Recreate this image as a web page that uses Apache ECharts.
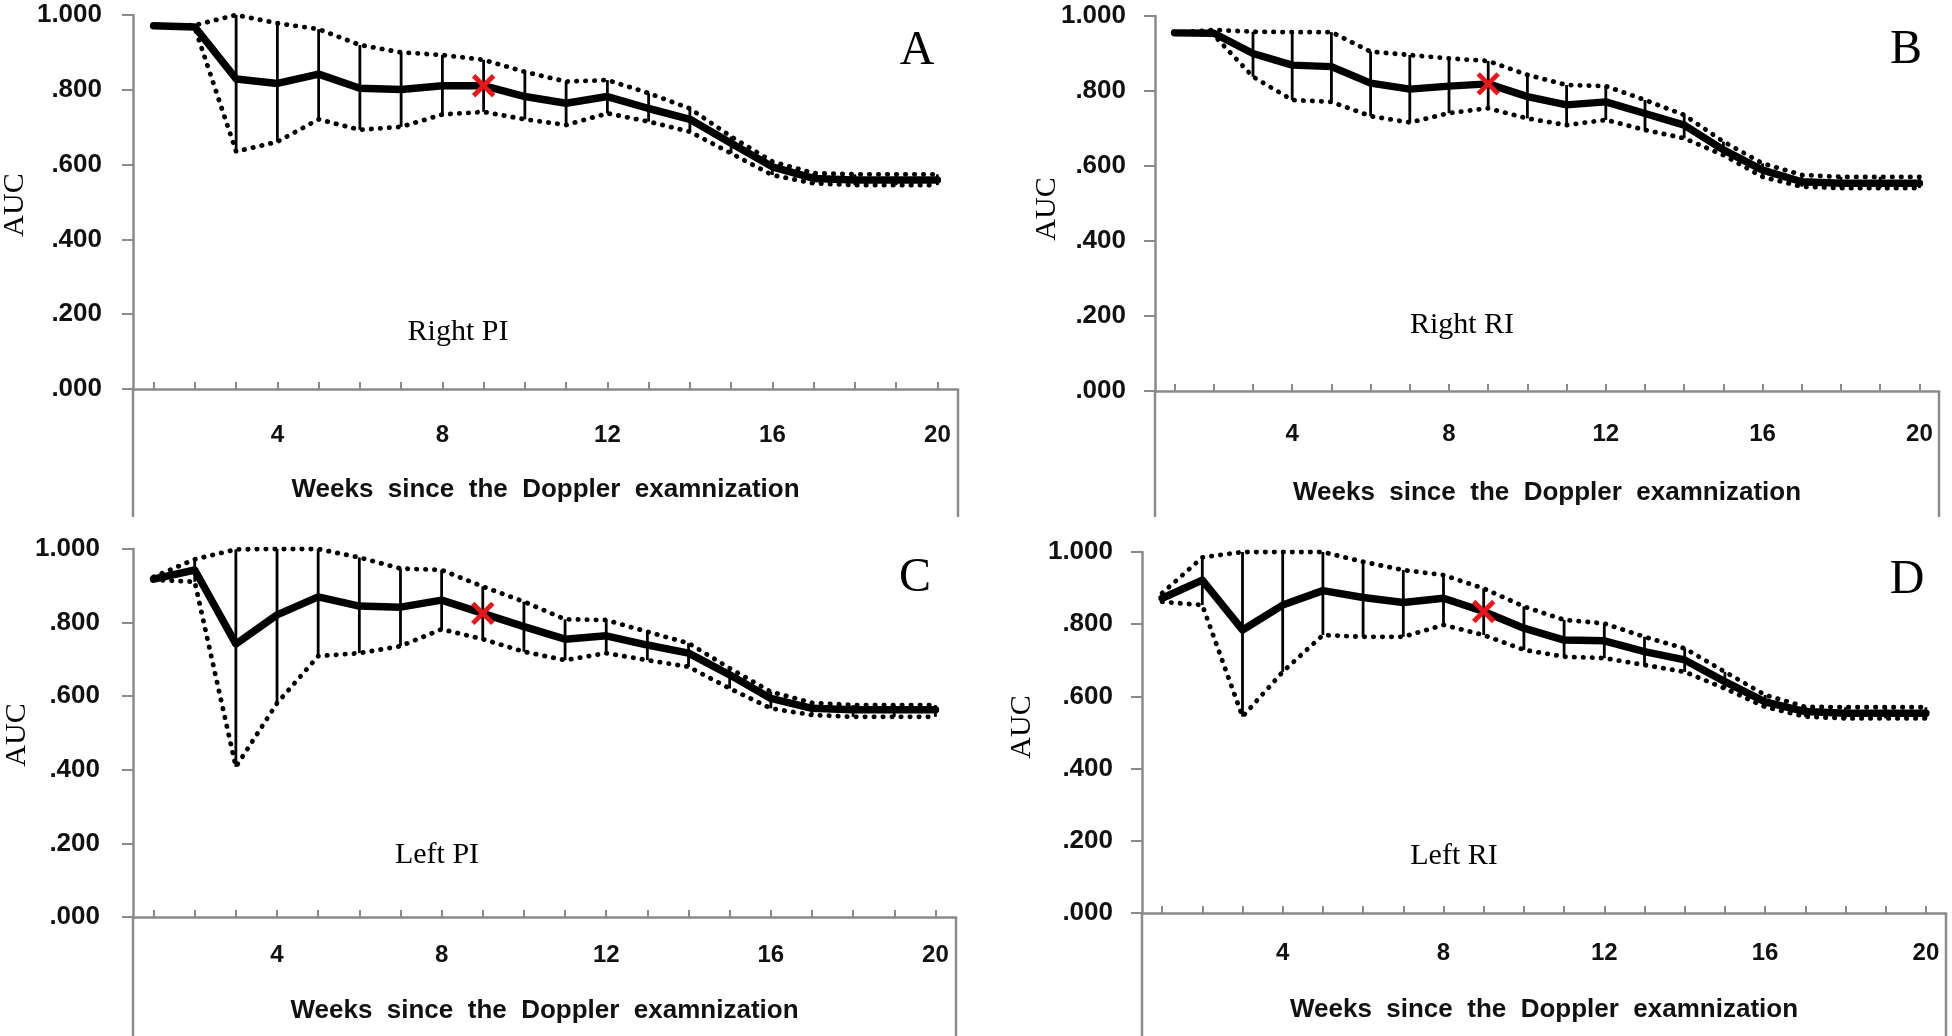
<!DOCTYPE html>
<html>
<head>
<meta charset="utf-8">
<script src="https://cdn.jsdelivr.net/npm/echarts@6/dist/echarts.min.js"></script>
<style>
html,body{margin:0;padding:0;background:#fff;}
#main{width:1952px;height:1036px;}
</style>
</head>
<body>
<div id="main"></div>
<script>
// ---------- data ----------
const weeks = ['1','2','3','4','5','6','7','8','9','10','11','12','13','14','15','16','17','18','19','20'];
const tickLabels = ['4','8','12','16','20'];
const yTickLabels = ['.000','.200','.400','.600','.800','1.000'];
const panelNames = ['Right PI','Right RI','Left PI','Left RI'];
const panelLetters = ['A','B','C','D'];
const xTitle = 'Weeks  since  the  Doppler  examnization';
const yTitle = 'AUC';
const markWeek = '9';

// Right PI (A)
const rightPI_auc   = [0.971,0.968,0.829,0.817,0.842,0.804,0.801,0.811,0.811,0.782,0.764,0.782,0.750,0.721,0.657,0.594,0.563,0.559,0.559,0.559];
const rightPI_upper = [0.971,0.973,1.000,0.978,0.962,0.920,0.900,0.893,0.880,0.848,0.822,0.826,0.791,0.750,0.675,0.608,0.577,0.574,0.574,0.574];
const rightPI_lower = [0.971,0.966,0.635,0.661,0.721,0.693,0.701,0.734,0.741,0.721,0.706,0.737,0.715,0.688,0.630,0.572,0.550,0.545,0.545,0.545];
// Right RI (B)
const rightRI_auc   = [0.955,0.954,0.900,0.869,0.865,0.821,0.805,0.813,0.819,0.785,0.763,0.771,0.740,0.709,0.643,0.589,0.558,0.554,0.554,0.554];
const rightRI_upper = [0.955,0.963,0.958,0.957,0.957,0.905,0.896,0.887,0.880,0.843,0.816,0.813,0.776,0.736,0.665,0.607,0.576,0.571,0.571,0.571];
const rightRI_lower = [0.955,0.949,0.838,0.776,0.771,0.733,0.716,0.741,0.754,0.727,0.709,0.723,0.696,0.674,0.629,0.571,0.545,0.541,0.541,0.541];
// Left PI (C)
const leftPI_auc    = [0.918,0.943,0.742,0.821,0.870,0.845,0.842,0.861,0.825,0.789,0.755,0.764,0.739,0.717,0.658,0.594,0.567,0.563,0.563,0.563];
const leftPI_upper  = [0.924,0.972,0.999,1.000,1.000,0.977,0.947,0.943,0.898,0.857,0.809,0.807,0.775,0.744,0.676,0.612,0.582,0.576,0.576,0.576];
const leftPI_lower  = [0.916,0.911,0.408,0.581,0.709,0.717,0.736,0.782,0.755,0.721,0.698,0.717,0.698,0.680,0.621,0.567,0.549,0.544,0.544,0.544];
// Left RI (D)
const leftRI_auc    = [0.872,0.922,0.784,0.853,0.893,0.874,0.860,0.872,0.835,0.789,0.756,0.754,0.724,0.701,0.641,0.585,0.558,0.553,0.553,0.553];
const leftRI_upper  = [0.886,0.985,1.000,1.000,1.000,0.973,0.950,0.936,0.899,0.849,0.812,0.802,0.765,0.733,0.668,0.604,0.571,0.570,0.570,0.570];
const leftRI_lower  = [0.862,0.853,0.544,0.668,0.770,0.765,0.765,0.798,0.770,0.729,0.710,0.706,0.687,0.668,0.622,0.571,0.544,0.539,0.539,0.539];

const panelAuc   = [rightPI_auc, rightRI_auc, leftPI_auc, leftRI_auc];
const panelUpper = [rightPI_upper, rightRI_upper, leftPI_upper, leftRI_upper];
const panelLower = [rightPI_lower, rightRI_lower, leftPI_lower, leftRI_lower];

// ---------- layout ----------
const grids = [
  {left:133,  top:15,  width:825, height:374},
  {left:1155, top:16,  width:784, height:375},
  {left:133,  top:549, width:823, height:368},
  {left:1142, top:552, width:804, height:361}
];
const frameBottom = [517, 517, 1036, 1036];
const labelMargin = [34, 31, 26, 28];
const nameGapX = [88, 89, 81, 84];
const yLabelMargin = [31, 29, 33, 29];
const letterPos = [[917,51],[1906,50],[915,578],[1907,580]];
const subPos = [[458,332],[1462,325],[437,855],[1454,856]];
const aucPos = [[15,205],[1047,209],[17,735],[1022,727]];

const AXIS_GRAY = '#8a8a8a';
const chart = echarts.init(document.getElementById('main'), null, {renderer:'canvas'});

const xAxes = [], yAxes = [], series = [], graphics = [];
grids.forEach((g, i) => {
  xAxes.push({
    type:'category', gridIndex:i, data:weeks, boundaryGap:true,
    name: xTitle, nameLocation:'middle', nameGap:nameGapX[i],
    nameTextStyle:{fontFamily:'Liberation Sans, Arial, sans-serif', fontWeight:'bold', fontSize:26, color:'#111'},
    axisLine:{show:true, onZero:false, lineStyle:{color:AXIS_GRAY, width:2.5}},
    axisTick:{show:true, inside:true, length:7, alignWithLabel:true, interval:0, lineStyle:{color:AXIS_GRAY, width:2}},
    axisLabel:{show:true, interval:(idx, val) => tickLabels.indexOf(val) >= 0, margin:labelMargin[i],
      fontFamily:'Liberation Sans Narrow, Liberation Sans, Arial, sans-serif', fontWeight:'bold', fontSize:24, color:'#111'},
    splitLine:{show:false}
  });
  yAxes.push({
    type:'value', gridIndex:i, min:0, max:1, interval:0.2,
    axisLine:{show:true, lineStyle:{color:AXIS_GRAY, width:2.5}},
    axisTick:{show:true, inside:false, length:11, lineStyle:{color:AXIS_GRAY, width:2}},
    axisLabel:{margin:yLabelMargin[i], fontFamily:'Liberation Sans, Arial, sans-serif', fontWeight:'bold', fontSize:26, color:'#111',
      formatter:(v) => yTickLabels[Math.round(v/0.2)]},
    splitLine:{show:false}
  });

  const auc = panelAuc[i], up = panelUpper[i], lo = panelLower[i];
  const dotted = {color:'#000', width:4.8, type:[0.4, 8.6], cap:'round', join:'round'};
  series.push({type:'line', xAxisIndex:i, yAxisIndex:i, data:up, symbol:'none', lineStyle:dotted, z:2, silent:true, animation:false});
  series.push({type:'line', xAxisIndex:i, yAxisIndex:i, data:lo, symbol:'none', lineStyle:dotted, z:2, silent:true, animation:false});
  series.push({
    type:'custom', xAxisIndex:i, yAxisIndex:i, z:3, silent:true, animation:false,
    data: weeks.map((w, k) => [k, lo[k], up[k]]),
    encode:{x:0, y:[1,2]},
    renderItem:(params, api) => {
      const p1 = api.coord([api.value(0), api.value(1)]);
      const p2 = api.coord([api.value(0), api.value(2)]);
      return {type:'line', shape:{x1:p1[0], y1:p1[1], x2:p2[0], y2:p2[1]}, style:{stroke:'#000', lineWidth:2.8}};
    }
  });
  series.push({type:'line', xAxisIndex:i, yAxisIndex:i, data:auc, symbol:'none',
    lineStyle:{color:'#000', width:7.5, cap:'round', join:'round'}, z:4, silent:true, animation:false});
  const mk = weeks.indexOf(markWeek);
  series.push({
    type:'custom', xAxisIndex:i, yAxisIndex:i, z:5, silent:true, animation:false,
    data:[[mk, auc[mk]]], encode:{x:0, y:1},
    renderItem:(params, api) => {
      const c = api.coord([api.value(0), api.value(1)]);
      const s = 10;
      return {type:'group', children:[
        {type:'line', shape:{x1:c[0]-s, y1:c[1]-s, x2:c[0]+s, y2:c[1]+s}, style:{stroke:'#e8161b', lineWidth:4.8}},
        {type:'line', shape:{x1:c[0]-s, y1:c[1]+s, x2:c[0]+s, y2:c[1]-s}, style:{stroke:'#e8161b', lineWidth:4.8}}
      ]};
    }
  });

  // plot-area frame below the category axis
  const yb = g.top + g.height;
  graphics.push({type:'line', silent:true, shape:{x1:g.left, y1:yb, x2:g.left, y2:frameBottom[i]}, style:{stroke:AXIS_GRAY, lineWidth:2.5}});
  graphics.push({type:'line', silent:true, shape:{x1:g.left+g.width, y1:yb, x2:g.left+g.width, y2:frameBottom[i]}, style:{stroke:AXIS_GRAY, lineWidth:2.5}});
  graphics.push({type:'text', silent:true, x:letterPos[i][0], y:letterPos[i][1],
    style:{text:panelLetters[i], font:'48px "Liberation Serif", "Times New Roman", serif', fill:'#000', textAlign:'center', textVerticalAlign:'middle'}});
  graphics.push({type:'text', silent:true, x:subPos[i][0], y:subPos[i][1],
    style:{text:panelNames[i], font:'30px "Liberation Serif", "Times New Roman", serif', fill:'#000', textAlign:'center', textVerticalAlign:'middle'}});
  graphics.push({type:'text', silent:true, x:aucPos[i][0], y:aucPos[i][1], rotation:Math.PI/2,
    style:{text:yTitle, font:'30px "Liberation Serif", "Times New Roman", serif', fill:'#000', textAlign:'center', textVerticalAlign:'middle'}});
});

chart.setOption({
  animation:false,
  backgroundColor:'#fff',
  grid: grids.map(g => Object.assign({containLabel:false}, g)),
  xAxis: xAxes,
  yAxis: yAxes,
  series: series,
  graphic: graphics
});
</script>
</body>
</html>
